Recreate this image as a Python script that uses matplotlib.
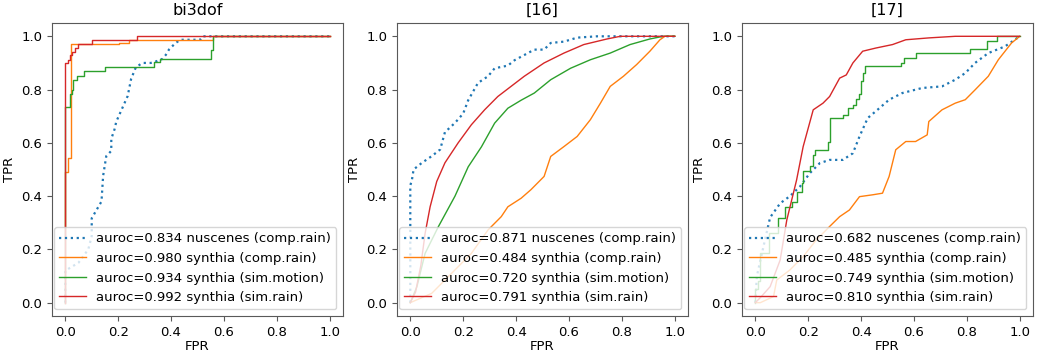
import matplotlib
matplotlib.use("Agg")
import matplotlib.pyplot as plt

titles = ["bi3dof", "[16]", "[17]"]
names = ["nuscenes (comp.rain)", "synthia (comp.rain)", "synthia (sim.motion)", "synthia (sim.rain)"]
aurocs = [
    [0.834, 0.980, 0.934, 0.992],
    [0.871, 0.484, 0.720, 0.791],
    [0.682, 0.485, 0.749, 0.810],
]

# bi3dof
p1_blue_x = [0, 0, 0.05, 0.087, 0.1, 0.1, 0.137, 0.143, 0.155, 0.174, 0.174, 0.186, 0.193, 0.211, 0.236,
             0.249, 0.267, 0.292, 0.323, 0.336, 0.367, 0.38, 0.392, 0.417, 0.436, 0.51, 0.52, 1.0]
p1_blue_y = [0, 0.12, 0.15, 0.2, 0.25, 0.317, 0.38, 0.475, 0.55, 0.57, 0.615, 0.65, 0.68, 0.72, 0.776,
             0.84, 0.884, 0.9, 0.9, 0.903, 0.915, 0.93, 0.95, 0.975, 0.987, 0.987, 1.0, 1.0]
p1_orange_x = [0, 0, 0.01, 0.022, 0.205, 0.24, 0.56, 1.0]
p1_orange_y = [0, 0.49, 0.543, 0.97, 0.975, 0.988, 1.0, 1.0]
p1_green_x = [0, 0, 0.019, 0.026, 0.03, 0.045, 0.07, 0.15, 0.336, 0.36, 0.55, 0.56, 1.0]
p1_green_y = [0, 0.735, 0.785, 0.8, 0.835, 0.85, 0.87, 0.885, 0.903, 0.915, 0.95, 1.0, 1.0]
p1_red_x = [0, 0, 0.01, 0.019, 0.025, 0.035, 0.05, 0.1, 0.273, 1.0]
p1_red_y = [0, 0.9, 0.91, 0.93, 0.94, 0.955, 0.97, 0.985, 1.0, 1.0]

# [16]
p2_blue_x = [0, 0, 0.006, 0.0125, 0.044, 0.081, 0.113, 0.131, 0.169, 0.2, 0.219, 0.256, 0.294, 0.319,
             0.369, 0.394, 0.469, 0.506, 0.531, 0.581, 0.631, 0.706, 1.0]
p2_blue_y = [0, 0.44, 0.46, 0.5, 0.525, 0.55, 0.575, 0.64, 0.675, 0.71, 0.76, 0.825, 0.85, 0.88,
             0.89, 0.91, 0.95, 0.95, 0.975, 0.98, 0.995, 1.0, 1.0]
p2_orange_x = [0, 0.081, 0.131, 0.181, 0.231, 0.294, 0.344, 0.369, 0.419, 0.456, 0.506, 0.531, 0.581,
               0.631, 0.681, 0.719, 0.756, 0.806, 0.856, 0.906, 0.944, 0.963, 1.0]
p2_orange_y = [0, 0.035, 0.085, 0.135, 0.185, 0.273, 0.323, 0.36, 0.392, 0.424, 0.474, 0.549, 0.586,
               0.624, 0.687, 0.749, 0.812, 0.85, 0.894, 0.944, 0.987, 1.0, 1.0]
p2_green_x = [0, 0.025, 0.056, 0.106, 0.169, 0.219, 0.269, 0.319, 0.369, 0.419, 0.469, 0.531, 0.606,
              0.681, 0.756, 0.831, 0.906, 0.956, 1.0]
p2_green_y = [0, 0.06, 0.185, 0.285, 0.4, 0.51, 0.585, 0.674, 0.73, 0.76, 0.787, 0.837, 0.88,
              0.912, 0.937, 0.969, 0.99, 1.0, 1.0]
p2_red_x = [0, 0.02, 0.04, 0.056, 0.075, 0.1, 0.131, 0.181, 0.231, 0.281, 0.331, 0.381, 0.431, 0.506,
            0.581, 0.656, 0.744, 0.794, 1.0]
p2_red_y = [0, 0.04, 0.14, 0.26, 0.36, 0.455, 0.525, 0.6, 0.668, 0.724, 0.774, 0.812, 0.85, 0.9,
            0.937, 0.969, 0.99, 1.0, 1.0]

# [17]
p3_blue_x = [0, 0.006, 0.025, 0.056, 0.094, 0.131, 0.169, 0.206, 0.244, 0.281, 0.331, 0.369, 0.394,
             0.425, 0.469, 0.506, 0.556, 0.631, 0.706, 0.756, 0.794, 0.831, 0.881, 0.944, 1.0]
p3_blue_y = [0, 0.1, 0.185, 0.32, 0.373, 0.4, 0.436, 0.486, 0.524, 0.536, 0.536, 0.561, 0.624,
             0.693, 0.73, 0.762, 0.787, 0.806, 0.812, 0.837, 0.862, 0.9, 0.937, 0.962, 1.0]
p3_orange_x = [0, 0.019, 0.069, 0.081, 0.131, 0.181, 0.231, 0.281, 0.319, 0.356, 0.394, 0.444, 0.481,
               0.506, 0.531, 0.569, 0.606, 0.65, 0.656, 0.706, 0.756, 0.794, 0.831, 0.881, 0.919, 0.969, 1.0]
p3_orange_y = [0, 0, 0.023, 0.085, 0.123, 0.173, 0.236, 0.286, 0.323, 0.348, 0.398, 0.405, 0.411,
               0.474, 0.574, 0.605, 0.605, 0.63, 0.68, 0.724, 0.749, 0.762, 0.799, 0.85, 0.912, 0.975, 1.0]
p3_green_x = [0, 0, 0.012, 0.019, 0.05, 0.0875, 0.1125, 0.1375, 0.156, 0.175, 0.181, 0.206, 0.219, 0.225,
              0.275, 0.281, 0.331, 0.35, 0.369, 0.381, 0.394, 0.4, 0.406, 0.413, 0.55, 0.5625, 0.606,
              0.8125, 0.875, 0.9125, 1.0]
p3_green_y = [0, 0.05, 0.08, 0.185, 0.26, 0.316, 0.359, 0.377, 0.414, 0.451, 0.494, 0.513, 0.556, 0.575,
              0.605, 0.692, 0.704, 0.729, 0.741, 0.766, 0.784, 0.834, 0.864, 0.889, 0.901, 0.92, 0.938,
              0.951, 0.982, 1.0, 1.0]
p3_red_x = [0, 0.02, 0.056, 0.094, 0.119, 0.156, 0.181, 0.219, 0.256, 0.281, 0.319, 0.344, 0.369, 0.406,
            0.456, 0.519, 0.569, 0.656, 0.756, 1.0]
p3_red_y = [0, 0.02, 0.06, 0.16, 0.31, 0.46, 0.586, 0.724, 0.749, 0.774, 0.843, 0.855, 0.9, 0.944,
            0.956, 0.969, 0.987, 0.994, 1.0, 1.0]

panels = [
    [(p1_blue_x, p1_blue_y), (p1_orange_x, p1_orange_y), (p1_green_x, p1_green_y), (p1_red_x, p1_red_y)],
    [(p2_blue_x, p2_blue_y), (p2_orange_x, p2_orange_y), (p2_green_x, p2_green_y), (p2_red_x, p2_red_y)],
    [(p3_blue_x, p3_blue_y), (p3_orange_x, p3_orange_y), (p3_green_x, p3_green_y), (p3_red_x, p3_red_y)],
]
# which curves are staircases (roc corners, horizontal then vertical)
stepped = [[False, True, True, True], [False, False, False, False], [False, False, True, False]]

colors = ["tab:blue", "tab:orange", "tab:green", "tab:red"]

fig, axes = plt.subplots(1, 3, figsize=(10.41, 3.52), dpi=100)
fig.subplots_adjust(left=0.05, right=0.9923, bottom=0.1023, top=0.9347, wspace=0.186)

for k, ax in enumerate(axes):
    for i, (xs, ys) in enumerate(panels[k]):
        label = f"auroc={aurocs[k][i]:.3f} {names[i]}"
        ds = "steps-post" if stepped[k][i] else "default"
        if i == 0:
            ax.plot(xs, ys, color=colors[i], linestyle=":", linewidth=1.6, label=label, drawstyle=ds)
        else:
            ax.plot(xs, ys, color=colors[i], linewidth=1, label=label, drawstyle=ds)
    ax.set_title(titles[k], fontsize=11.5)
    ax.set_xlabel("FPR", fontsize=9.5, labelpad=1)
    ax.set_ylabel("TPR", fontsize=9.5)
    ax.tick_params(labelsize=9.5, color="0.35")
    for sp in ax.spines.values():
        sp.set_edgecolor("0.35")
    ax.set_xticks([0, 0.2, 0.4, 0.6, 0.8, 1.0])
    ax.set_yticks([0, 0.2, 0.4, 0.6, 0.8, 1.0])
    ax.legend(loc="lower right", fontsize=9.5)

fig.savefig("out.png", dpi=100)
